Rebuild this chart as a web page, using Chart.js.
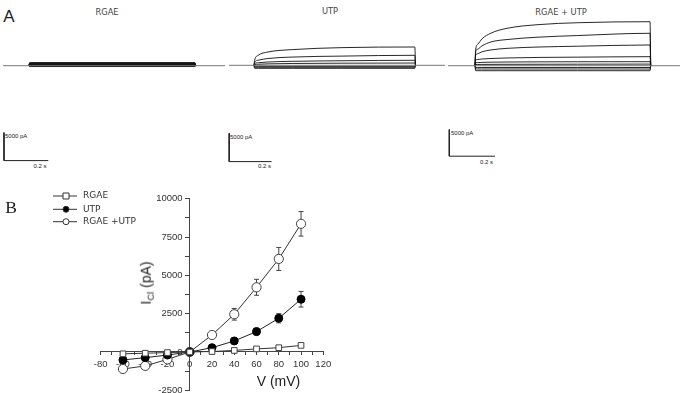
<!DOCTYPE html>
<html lang="en">
<head>
  <meta charset="UTF-8">
  <title>RGAE / UTP chloride currents</title>
  <script src="https://cdn.jsdelivr.net/npm/chart.js"></script>
  <style>
    html, body { margin: 0; padding: 0; background: #fff; overflow: hidden; }
    body { position: relative; width: 684px; height: 393px; font-family: "Liberation Sans", Arial, sans-serif; color: #222; }
    canvas { position: absolute; }
    .t { position: absolute; white-space: nowrap; line-height: 1; transform: translate(-50%, -50%); }
    .tl { position: absolute; white-space: nowrap; line-height: 1; transform: translateY(-50%); }
    .head { font-family: "DejaVu Sans", sans-serif; font-size: 8.3px; color: #444; }
    .bar { font-size: 6px; color: #222; }
    .ylab { position: absolute; white-space: nowrap; line-height: 1; font-size: 14px; color: #222;
            transform: translate(-50%, -50%) rotate(-90deg); }
    .ylab sub { font-size: 9.5px; vertical-align: -3px; }
  </style>
</head>
<body>
  <div class="t" style="left:9px; top:15.5px; font-size:17px;">A</div>
  <div class="t head" style="left:107px; top:12px;">RGAE</div>
  <div class="t head" style="left:330px; top:11px;">UTP</div>
  <div class="t head" style="left:561px; top:11.5px;">RGAE + UTP</div>

  <div class="tl bar" style="left:5px; top:136px;">5000 pA</div>
  <div class="t bar" style="left:40px; top:165.5px;">0.2 s</div>
  <div class="tl bar" style="left:230px; top:136.5px;">5000 pA</div>
  <div class="t bar" style="left:264.5px; top:165.5px;">0.2 s</div>
  <div class="tl bar" style="left:451px; top:132.5px;">5000 pA</div>
  <div class="t bar" style="left:486.5px; top:161.5px;">0.2 s</div>

  <canvas id="traceRgae" width="228" height="175" style="left:0; top:0;"></canvas>
  <canvas id="traceUtp" width="218" height="175" style="left:228px; top:0;"></canvas>
  <canvas id="traceBoth" width="238" height="175" style="left:446px; top:0;"></canvas>

  <canvas id="ivChart" width="684" height="225" style="left:0; top:178px;"></canvas>

  <div class="t" style="left:11px; top:207.5px; font-family:'Liberation Serif', serif; font-size:17.5px;">B</div>
  <div class="ylab" style="left:147px; top:283px;">I<sub>Cl</sub> (pA)</div>
  <div class="t" style="left:278.5px; top:381px; font-size:14px;">V (mV)</div>

<script>
  // ---- panel A: current traces (time in s, current in pA) ----
  const rgaeTime = [0.003, 0.749];
  const rgaeTraces = [
    [-150, -150], [-80, -80], [-10, -10], [60, 60], [130, 130],
    [200, 200], [270, 270], [340, 340], [410, 410], [480, 480], [550, 550]
  ];

  const utpTime = [0.003, 0.02, 0.066, 0.18, 0.415, 0.759];
  const utpTraces = [
    [880, 1760, 2340, 2760, 3110, 3220],
    [580, 900, 1200, 1450, 1620, 1760],
    [300, 450, 580, 700, 800, 880],
    [120, 180, 250, 320, 370, 400],
    [-180, -180, -180, -180, -180, -180],
    [-350, -350, -350, -350, -350, -350],
    [-530, -530, -530, -530, -530, -530]
  ];

  const bothTime = [0.003, 0.012, 0.03, 0.07, 0.14, 0.28, 0.45, 0.766];
  const bothTraces = [
    [3070, 4000, 5000, 6100, 7000, 7700, 8050, 8240],
    [2620, 3100, 3700, 4450, 4900, 5350, 5650, 6070],
    [2000, 2250, 2600, 2950, 3250, 3500, 3650, 3880],
    [1070, 1150, 1250, 1350, 1450, 1550, 1600, 1690],
    [560, 590, 620, 660, 690, 720, 740, 750],
    [220, 230, 240, 250, 260, 270, 280, 300],
    [-340, -340, -340, -340, -340, -340, -340, -340],
    [-620, -620, -620, -620, -620, -620, -620, -620],
    [-940, -940, -940, -940, -940, -940, -940, -940]
  ];

  // scale bars: 5000 pA by 0.2 s
  const barCurrent = [-16950, -11950];
  const barTime = 0.2;

  // ---- panel B: I-V relation ----
  const volts = [-60, -40, -20, 0, 20, 40, 60, 80, 100];
  const rgae = [-120, -80, -40, 0, 30, 100, 200, 280, 430];
  const rgaeErr = [80, 60, 50, 0, 60, 70, 90, 110, 100];
  const utp = [-520, -370, -200, 0, 280, 720, 1330, 2200, 3440];
  const utpErr = [90, 80, 60, 0, 80, 110, 220, 300, 510];
  const both = [-1110, -910, -480, 0, 1110, 2460, 4220, 6070, 8360];
  const bothErr = [120, 110, 90, 0, 100, 380, 520, 750, 800];

  function tracePanel(id, time, traces, view) {
    const end = time[time.length - 1];
    const sets = [];
    sets.push({
      data: [{ x: view.base[0], y: 0 }, { x: view.base[1], y: 0 }],
      borderColor: '#777', borderWidth: 1
    });
    traces.forEach(vals => {
      const pts = [{ x: 0, y: 0 }];
      time.forEach((t, i) => pts.push({ x: t, y: vals[i] }));
      pts.push({ x: end + 0.003, y: 0 });
      sets.push({ data: pts, borderColor: '#111', borderWidth: 0.9, cubicInterpolationMode: 'monotone' });
    });
    sets.push({
      data: [
        { x: view.barX, y: barCurrent[1] },
        { x: view.barX, y: barCurrent[0] },
        { x: view.barX + barTime, y: barCurrent[0] }
      ],
      borderColor: '#222', borderWidth: 1
    });
    return new Chart(document.getElementById(id), {
      type: 'line',
      data: { datasets: sets },
      options: {
        responsive: false,
        animation: false,
        events: [],
        layout: { padding: 0 },
        elements: { point: { radius: 0 }, line: { tension: 0 } },
        plugins: { legend: { display: false }, tooltip: { enabled: false } },
        scales: {
          x: { type: 'linear', display: false, min: view.x[0], max: view.x[1] },
          y: { type: 'linear', display: false, min: view.y[0], max: view.y[1] }
        }
      }
    });
  }

  tracePanel('traceRgae', rgaeTime, rgaeTraces,
    { x: [-0.131, 0.898], y: [-19521, 11734], base: [-0.117, 0.885], barX: -0.113 });
  tracePanel('traceUtp', utpTime, utpTraces,
    { x: [-0.1226, 0.906], y: [-19307, 11493], base: [-0.118, 0.901], barX: -0.117 });
  tracePanel('traceBoth', bothTime, bothTraces,
    { x: [-0.1269, 0.9147], y: [-20472, 12305], base: [-0.118, 0.897], barX: -0.1125 });

  // error bars drawn under the markers
  const errorBars = {
    id: 'errorBars',
    beforeDatasetsDraw(chart) {
      const { ctx, scales: { x, y } } = chart;
      ctx.save();
      ctx.strokeStyle = '#444';
      ctx.lineWidth = 1;
      chart.data.datasets.forEach(ds => {
        ds.data.forEach((p, i) => {
          const e = ds.errors[i];
          if (!e) return;
          const px = x.getPixelForValue(p.x);
          const top = y.getPixelForValue(p.y + e);
          const bot = y.getPixelForValue(p.y - e);
          ctx.beginPath();
          ctx.moveTo(px, top); ctx.lineTo(px, bot);
          ctx.moveTo(px - 2.5, top); ctx.lineTo(px + 2.5, top);
          ctx.moveTo(px - 2.5, bot); ctx.lineTo(px + 2.5, bot);
          ctx.stroke();
        });
      });
      ctx.restore();
    }
  };

  // legend in the upper left, line with marker in the middle
  const sideLegend = {
    id: 'sideLegend',
    afterDraw(chart) {
      const ctx = chart.ctx;
      const rows = [18, 31.3, 43.7];
      ctx.save();
      chart.data.datasets.forEach((ds, i) => {
        const yy = rows[i];
        ctx.strokeStyle = '#333';
        ctx.lineWidth = 1;
        ctx.beginPath(); ctx.moveTo(53, yy); ctx.lineTo(77, yy); ctx.stroke();
        ctx.fillStyle = ds.pointBackgroundColor;
        ctx.beginPath();
        if (ds.pointStyle === 'rect') ctx.rect(63, yy - 3, 6, 6);
        else ctx.arc(66, yy, 3, 0, Math.PI * 2);
        ctx.fill(); ctx.stroke();
        ctx.fillStyle = '#333';
        ctx.font = '9px "DejaVu Sans"';
        ctx.textBaseline = 'middle';
        ctx.fillText(ds.label, 83, yy);
      });
      ctx.restore();
    }
  };

  const pts = vals => volts.map((v, i) => ({ x: v, y: vals[i] }));

  new Chart(document.getElementById('ivChart'), {
    type: 'line',
    data: {
      datasets: [
        { label: 'RGAE', data: pts(rgae), errors: rgaeErr, pointStyle: 'rect', pointRadius: 4,
          pointBackgroundColor: '#fff', pointBorderColor: '#444', borderColor: '#333' },
        { label: 'UTP', data: pts(utp), errors: utpErr, pointStyle: 'circle', pointRadius: 4,
          pointBackgroundColor: '#000', pointBorderColor: '#000', borderColor: '#222' },
        { label: 'RGAE +UTP', data: pts(both), errors: bothErr, pointStyle: 'circle', pointRadius: 4.6,
          pointBackgroundColor: '#fff', pointBorderColor: '#444', borderColor: '#333' }
      ]
    },
    options: {
      responsive: false,
      animation: false,
      events: [],
      layout: { padding: { left: 100.7, right: 360.7, top: 20.7, bottom: 12.7 } },
      elements: { line: { borderWidth: 1, tension: 0 }, point: { borderWidth: 1 } },
      plugins: { legend: { display: false }, tooltip: { enabled: false } },
      scales: {
        x: {
          type: 'linear', min: -80, max: 120,
          position: { y: 0 },
          border: { display: true, color: '#444', width: 1 },
          grid: { drawOnChartArea: false, drawTicks: true, tickLength: 3, color: '#444' },
          ticks: {
            stepSize: 10, padding: 4, color: '#333', maxRotation: 0, autoSkip: false,
            font: { family: 'Liberation Sans', size: 9.5 },
            callback: v => (v % 20 === 0 ? v : '')
          }
        },
        y: {
          type: 'linear', min: -2500, max: 10000,
          position: { x: 0 },
          border: { display: true, color: '#444', width: 1 },
          grid: { drawOnChartArea: false, drawTicks: true, tickLength: 4, color: '#444' },
          ticks: {
            // labels of a value-positioned axis sit on the axis line, so pad them with spaces
            stepSize: 1250, padding: 3, color: '#333', autoSkip: false,
            font: { family: 'Liberation Sans', size: 9.5 },
            callback: v => (v % 2500 === 0 ? v + '\u00a0\u00a0\u2009' : '')
          }
        }
      }
    },
    plugins: [errorBars, sideLegend]
  });
</script>
</body>
</html>
